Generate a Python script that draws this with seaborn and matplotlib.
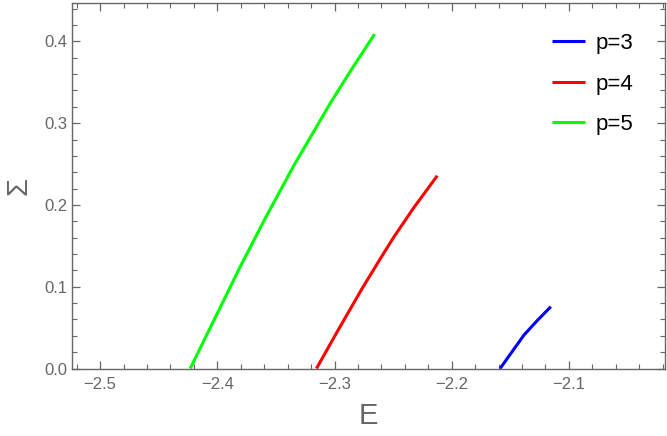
import numpy as np
import pandas as pd
import matplotlib
matplotlib.use("Agg")
import matplotlib.pyplot as plt
from matplotlib.ticker import MultipleLocator
import seaborn as sns

sns.set_theme(style="white")
plt.rcParams['font.family'] = ['Liberation Sans', 'DejaVu Sans']

# Data
e_p5 = [-2.4231, -2.4074, -2.3803, -2.359, -2.3348, -2.3034, -2.2863, -2.2658]
s_p5 = [0.0, 0.046, 0.125, 0.184, 0.248, 0.325, 0.364, 0.409]
e_p4 = [-2.3154, -2.2977, -2.2764, -2.2607, -2.2493, -2.2322, -2.2123]
s_p4 = [0.0, 0.045, 0.098, 0.1348, 0.161, 0.197, 0.2358]
e_p3 = [-2.1587, -2.1383, -2.1268, -2.1154]
s_p3 = [0.0, 0.041, 0.059, 0.0756]
labels = ["p=3", "p=4", "p=5"]
colors = ["#0000FF", "#FF0000", "#00FF00"]

df = pd.concat([
    pd.DataFrame({"E": e_p3, "S": s_p3, "p": labels[0]}),
    pd.DataFrame({"E": e_p4, "S": s_p4, "p": labels[1]}),
    pd.DataFrame({"E": e_p5, "S": s_p5, "p": labels[2]}),
], ignore_index=True)

fig = plt.figure(figsize=(6.67, 4.36), dpi=100)
ax = fig.add_axes([72/667, (436-368.5)/436, (665-72)/667, (368.5-3)/436])

sns.lineplot(data=df, x="E", y="S", hue="p", palette=dict(zip(labels, colors)),
             sort=False, estimator=None, linewidth=2.2, ax=ax)
for ln in ax.get_lines():
    ln.set_solid_joinstyle("round")
    ln.set_solid_capstyle("butt")

ax.set_xlim(-2.524, -2.018)
ax.set_ylim(0, 0.447)

gray = "#666666"
for sp in ax.spines.values():
    sp.set_visible(True)
    sp.set_color(gray)
    sp.set_linewidth(1.0)

ax.xaxis.set_major_locator(MultipleLocator(0.1))
ax.xaxis.set_minor_locator(MultipleLocator(0.02))
ax.yaxis.set_major_locator(MultipleLocator(0.1))
ax.yaxis.set_minor_locator(MultipleLocator(0.02))
ax.tick_params(which="both", direction="in", top=True, right=True, bottom=True, left=True,
               color=gray, labelcolor=gray, labelsize=12)
ax.tick_params(which="major", length=6, width=0.9)
ax.tick_params(which="minor", length=3.5, width=0.8)
ax.set_xticks([-2.5, -2.4, -2.3, -2.2, -2.1])
ax.set_xticklabels(["\u22122.5", "\u22122.4", "\u22122.3", "\u22122.2", "\u22122.1"])
ax.set_yticks([0.0, 0.1, 0.2, 0.3, 0.4])
ax.set_yticklabels(["0.0", "0.1", "0.2", "0.3", "0.4"])
ax.tick_params(axis="x", pad=6)
ax.tick_params(axis="y", pad=3)

ax.set_xlabel("E", fontsize=21, color=gray, labelpad=7)
ax.set_ylabel("\u03a3", fontsize=21, color=gray, labelpad=9)

leg = ax.legend(loc="upper left", bbox_to_anchor=(552/667, 1 - 33/436),
                bbox_transform=fig.transFigure, frameon=False,
                fontsize=16, handlelength=1.5, labelspacing=0.88, handletextpad=0.45,
                borderaxespad=0, borderpad=0)
for t in leg.get_texts():
    t.set_color("black")

fig.savefig("out.png", dpi=100)
